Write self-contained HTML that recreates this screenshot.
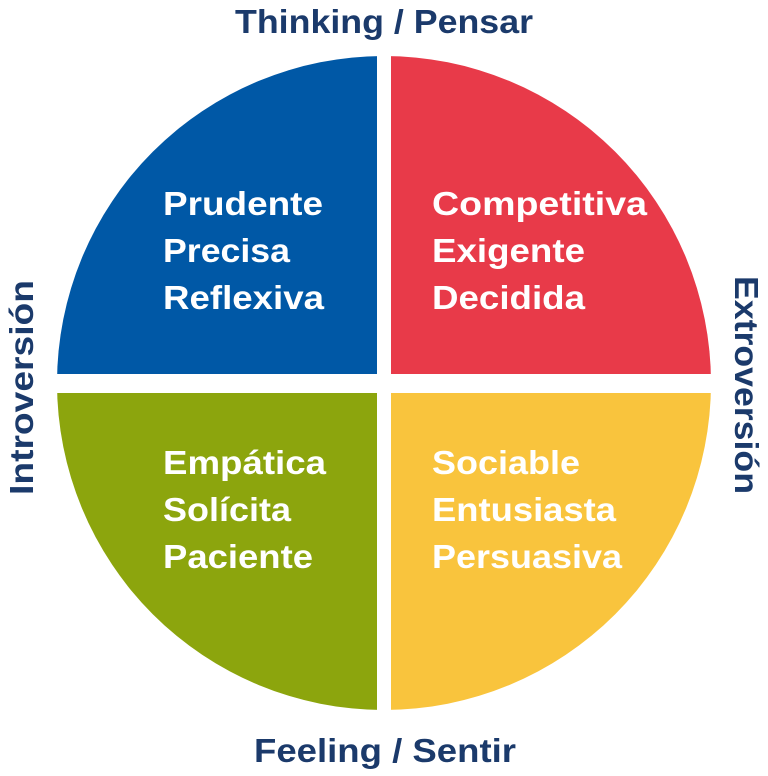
<!DOCTYPE html>
<html><head><meta charset="utf-8"><style>html,body{margin:0;padding:0;background:#fff}svg{display:block}</style></head>
<body>
<svg width="768" height="776" viewBox="0 0 768 776" xmlns="http://www.w3.org/2000/svg" font-family="Liberation Sans, sans-serif" font-weight="bold">
<defs><clipPath id="c"><circle cx="384" cy="383" r="327"/></clipPath></defs>
<g clip-path="url(#c)">
<rect x="0" y="0" width="377" height="374" fill="#0058a6"/>
<rect x="391" y="0" width="400" height="374" fill="#e83a49"/>
<rect x="0" y="393" width="377" height="400" fill="#8ca50d"/>
<rect x="391" y="393" width="400" height="400" fill="#f9c43d"/>
</g>
<g fill="#fff" font-size="33" lengthAdjust="spacingAndGlyphs">
<text x="163" y="215" textLength="160" lengthAdjust="spacingAndGlyphs">Prudente</text>
<text x="163" y="262" textLength="127" lengthAdjust="spacingAndGlyphs">Precisa</text>
<text x="163" y="309" textLength="161" lengthAdjust="spacingAndGlyphs">Reflexiva</text>
<text x="432" y="215" textLength="215" lengthAdjust="spacingAndGlyphs">Competitiva</text>
<text x="432" y="262" textLength="153" lengthAdjust="spacingAndGlyphs">Exigente</text>
<text x="432" y="309" textLength="153" lengthAdjust="spacingAndGlyphs">Decidida</text>
<text x="163" y="474" textLength="163" lengthAdjust="spacingAndGlyphs">Empática</text>
<text x="163" y="521" textLength="128" lengthAdjust="spacingAndGlyphs">Solícita</text>
<text x="163" y="568" textLength="150" lengthAdjust="spacingAndGlyphs">Paciente</text>
<text x="432" y="474" textLength="148" lengthAdjust="spacingAndGlyphs">Sociable</text>
<text x="432" y="521" textLength="184" lengthAdjust="spacingAndGlyphs">Entusiasta</text>
<text x="432" y="568" textLength="190" lengthAdjust="spacingAndGlyphs">Persuasiva</text>
</g>
<g fill="#1b3a6b" font-size="33">
<text x="235" y="33" textLength="298" lengthAdjust="spacingAndGlyphs">Thinking / Pensar</text>
<text x="254" y="762" textLength="262" lengthAdjust="spacingAndGlyphs">Feeling / Sentir</text>
<text transform="translate(33,495) rotate(-90)" textLength="215" lengthAdjust="spacingAndGlyphs">Introversión</text>
<text transform="translate(735,276) rotate(90)" textLength="218" lengthAdjust="spacingAndGlyphs">Extroversión</text>
</g>
</svg>
</body></html>
